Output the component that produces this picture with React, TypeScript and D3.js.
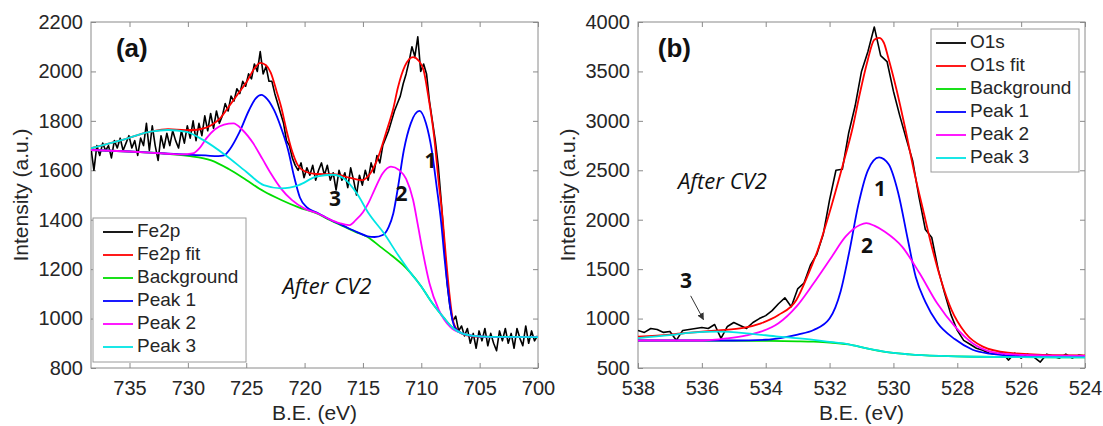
import React, { useRef, useEffect } from "react";
import * as d3 from "d3";

// ---------- panel (a) : Fe2p ----------
const fe2pStart = 738.3;
const fe2pStep = 0.25;
const fe2pRaw = [
  1690, 1600, 1700, 1660, 1710, 1680, 1700, 1650, 1720, 1690,
  1730, 1680, 1710, 1740, 1690, 1720, 1660, 1730, 1700, 1790,
  1680, 1780, 1700, 1640, 1740, 1690, 1750, 1700, 1760, 1720,
  1690, 1760, 1710, 1780, 1730, 1800, 1720, 1790, 1740, 1820,
  1760, 1830, 1770, 1840, 1790, 1820, 1870, 1840, 1900, 1880,
  1930, 1910, 1960, 1940, 1990, 1970, 2030, 2000, 2080, 1990,
  2020, 1960, 1960, 1910, 1870, 1830, 1790, 1720, 1700, 1650,
  1620, 1600, 1630, 1570, 1610, 1580, 1620, 1560, 1600, 1630,
  1580, 1620, 1560, 1590, 1520, 1600, 1560, 1590, 1530, 1610,
  1560, 1500, 1580, 1540, 1600, 1560, 1630, 1590, 1660, 1630,
  1700, 1730, 1760, 1800, 1840, 1870, 1900, 1950, 1990, 2040,
  2100, 2060, 2140, 2000, 2030, 1990, 1880, 1800, 1720, 1620,
  1480, 1320, 1150, 1050, 990, 1010, 950, 970, 930, 960,
  900, 940, 880, 950, 910, 960, 890, 940, 900, 870,
  950, 910, 960, 900, 940, 880, 960, 920, 890, 970,
  900, 950, 910, 930,
];
const fe2pFit: [number, number][] = [
  [738.3, 1689], [735.6, 1723], [733.2, 1756], [731.7, 1766], [730.2, 1762], [729.2, 1764],
  [728.0, 1782], [727.2, 1812], [726.5, 1857], [725.7, 1910], [725.0, 1955], [724.3, 2012],
  [723.8, 2035], [723.3, 2025], [722.9, 1995], [722.4, 1920], [722.0, 1855], [721.5, 1752],
  [721.1, 1682], [720.6, 1622], [720.0, 1596], [719.0, 1585], [717.5, 1584], [716.0, 1568],
  [715.1, 1560], [714.4, 1585], [713.8, 1640], [713.0, 1755], [712.4, 1850], [712.0, 1935],
  [711.4, 2022], [710.7, 2058], [710.2, 2042], [709.8, 2005], [709.4, 1900], [708.9, 1736],
  [708.5, 1547], [708.2, 1420], [707.9, 1255], [707.6, 1105], [707.3, 995], [706.9, 952],
  [706.2, 933], [705.0, 926], [700.0, 925],
];
const fe2pBackground: [number, number][] = [
  [738.3, 1682], [735.0, 1676], [732.0, 1668], [730.0, 1658], [728.0, 1640], [726.5, 1605],
  [725.0, 1561], [723.5, 1515], [722.0, 1480], [720.5, 1450], [719.0, 1426], [717.8, 1398],
  [716.7, 1374], [715.6, 1350], [714.6, 1330], [713.5, 1290], [712.4, 1250], [711.6, 1218],
  [710.9, 1184], [710.0, 1130], [709.2, 1072], [708.1, 1005], [707.3, 962], [706.5, 940],
  [705.5, 930], [704.0, 926], [700.0, 925],
];
const fe2pPeak1: [number, number][] = [
  [738.3, 1682], [735.0, 1676], [732.0, 1668], [730.0, 1663], [728.5, 1660], [727.4, 1657],
  [726.9, 1660], [726.4, 1685], [725.6, 1752], [724.75, 1844], [724.2, 1890], [723.7, 1905],
  [723.2, 1888], [722.6, 1842], [722.0, 1770], [721.4, 1680], [720.9, 1575], [720.4, 1490],
  [719.8, 1450], [719.0, 1430], [717.8, 1400], [716.7, 1376], [715.5, 1350], [714.6, 1333],
  [714.0, 1330], [713.3, 1338], [712.8, 1370], [712.4, 1425], [712.0, 1530], [711.5, 1680],
  [710.9, 1790], [710.15, 1840], [709.6, 1790], [709.1, 1680], [708.7, 1540], [708.3, 1390],
  [708.0, 1240], [707.7, 1110], [707.4, 1010], [707.1, 962], [706.5, 940], [705.5, 929],
  [704.0, 926], [700.0, 925],
];
const fe2pPeak2: [number, number][] = [
  [738.3, 1682], [735.0, 1676], [732.0, 1668], [730.5, 1664], [729.6, 1668], [729.0, 1690],
  [728.4, 1730], [727.7, 1765], [726.9, 1785], [726.1, 1790], [725.3, 1762], [724.4, 1709],
  [723.6, 1645], [722.9, 1588], [722.0, 1525], [721.1, 1480], [720.0, 1445], [719.0, 1428],
  [718.0, 1405], [717.0, 1386], [716.2, 1378], [715.6, 1399], [715.0, 1430], [714.5, 1470],
  [714.0, 1522], [713.3, 1588], [712.6, 1615], [711.9, 1601], [711.3, 1565], [710.7, 1480],
  [710.3, 1380], [709.9, 1277], [709.3, 1143], [708.5, 1035], [707.5, 965], [706.5, 940],
  [705.5, 930], [704.0, 926], [700.0, 925],
];
const fe2pPeak3: [number, number][] = [
  [738.3, 1689], [735.6, 1723], [733.2, 1756], [731.7, 1763], [730.2, 1756], [728.7, 1723],
  [726.8, 1662], [725.0, 1594], [723.5, 1540], [722.0, 1527], [720.5, 1540], [719.0, 1574],
  [717.6, 1582], [716.6, 1566], [715.5, 1505], [714.5, 1425], [713.2, 1345], [712.0, 1258],
  [710.9, 1184], [710.0, 1130], [709.2, 1072], [708.1, 1005], [707.3, 962], [706.5, 940],
  [705.5, 930], [704.0, 926], [700.0, 925],
];
const fe2pTicksX = [735, 730, 725, 720, 715, 710, 705, 700];
const fe2pTicksY = [800, 1000, 1200, 1400, 1600, 1800, 2000, 2200];
const fe2pLegend = ["Fe2p", "Fe2p fit", "Background", "Peak 1", "Peak 2", "Peak 3"];

// ---------- panel (b) : O1s ----------
const o1sStart = 538;
const o1sStep = 0.2;
const o1sRaw = [
  880, 860, 900, 890, 860, 870, 780, 880, 890, 900,
  910, 900, 940, 800, 920, 960, 930, 900, 960, 1000,
  1030, 1080, 1150, 1210, 1120, 1300, 1360, 1540, 1650, 1850,
  2200, 2500, 2510, 2880, 3150, 3500, 3700, 3950, 3660, 3600,
  3300, 3050, 2820, 2600, 2230, 1900, 1820, 1500, 1260, 1040,
  880, 780, 740, 700, 680, 650, 640, 660, 580, 650,
  600, 640, 610, 560, 640, 620, 600, 640, 600, 630, 620,
];
const o1sFit: [number, number][] = [
  [538, 817], [537, 838], [536.35, 858], [535.5, 880], [534.7, 905], [534.15, 952],
  [533.6, 1036], [533.04, 1188], [532.7, 1424], [532.37, 1694], [532.04, 2031], [531.6, 2536],
  [531.27, 2941], [531.05, 3279], [530.83, 3582], [530.6, 3820], [530.45, 3840], [530.3, 3790],
  [530.17, 3649], [529.9, 3312], [529.62, 2907], [529.34, 2469], [529.07, 2098], [528.85, 1795],
  [528.51, 1390], [528.18, 1087], [527.74, 851], [527.2, 716], [526.42, 655], [525, 630], [524, 627],
];
const o1sBackground: [number, number][] = [
  [538, 778], [536, 777], [534, 774], [533, 770], [532.5, 766], [532, 758], [531.4, 738],
  [530.8, 695], [530.2, 660], [529.5, 638], [528.5, 622], [527.5, 614], [526, 610], [524, 608],
];
const o1sPeak1: [number, number][] = [
  [538, 778], [535, 778], [534, 786], [533.5, 805], [533.0, 838], [532.5, 884], [532.0, 1000],
  [531.65, 1280], [531.38, 1680], [531.1, 2150], [530.8, 2500], [530.45, 2630], [530.15, 2560],
  [529.85, 2270], [529.55, 1800], [529.3, 1420], [529.0, 1170], [528.63, 960], [528.07, 790],
  [527.52, 685], [526.97, 645], [526, 620], [524, 612],
];
const o1sPeak2: [number, number][] = [
  [538, 778], [536, 778], [535.2, 800], [534.6, 830], [534.15, 867], [533.6, 952], [533.04, 1120],
  [532.5, 1357], [531.93, 1626], [531.5, 1828], [531.05, 1946], [530.85, 1965], [530.6, 1940],
  [530.28, 1880], [529.73, 1727], [529.18, 1458], [528.63, 1154], [528.07, 918], [527.52, 750],
  [526.97, 665], [526.4, 640], [525, 625], [524, 622],
];
const o1sPeak3: [number, number][] = [
  [538, 803], [537, 832], [536.35, 857], [535.5, 867], [534.6, 851], [533.6, 817], [532.5, 785],
  [532, 764], [531.4, 740], [530.8, 695], [530.2, 660], [529.5, 638], [528.5, 622], [527.5, 614],
  [526, 610], [524, 608],
];
const o1sTicksX = [538, 536, 534, 532, 530, 528, 526, 524];
const o1sTicksY = [500, 1000, 1500, 2000, 2500, 3000, 3500, 4000];
const o1sLegend = ["O1s", "O1s fit", "Background", "Peak 1", "Peak 2", "Peak 3"];

const seriesColors = ["#000000", "#ff0000", "#00dd00", "#0000ff", "#ff00ff", "#00e5e5"];

const sansFont = "'Liberation Sans', Arial, Helvetica, sans-serif";
const noteFont = "'Open Sans', 'DejaVu Sans', sans-serif";

const toPairs = (start: number, step: number, vals: number[]): [number, number][] =>
  vals.map((v, i) => [start - i * step, v]);

const panels = [
  {
    id: "a",
    left: 91, right: 538, top: 22, bottom: 368,
    xDomain: [738.3, 700], yDomain: [800, 2200],
    xTicks: fe2pTicksX, yTicks: fe2pTicksY,
    raw: toPairs(fe2pStart, fe2pStep, fe2pRaw),
    curves: [fe2pFit, fe2pBackground, fe2pPeak1, fe2pPeak2, fe2pPeak3],
    legend: fe2pLegend,
    legendBox: { x: 93, y: 218, w: 153, h: 144, first: 232, lineX: 103 },
    tag: { text: "(a)", at: [734.8, 2087] },
    note: { at: [721.9, 1124] },
    labels: [
      { t: "1", at: [709.2, 1634] },
      { t: "2", at: [711.7, 1500] },
      { t: "3", at: [717.4, 1480] },
    ],
    arrow: null as null | { from: number[]; to: number[] },
  },
  {
    id: "b",
    left: 638, right: 1085, top: 22, bottom: 368,
    xDomain: [538, 524], yDomain: [500, 4000],
    xTicks: o1sTicksX, yTicks: o1sTicksY,
    raw: toPairs(o1sStart, o1sStep, o1sRaw),
    curves: [o1sFit, o1sBackground, o1sPeak1, o1sPeak2, o1sPeak3],
    legend: o1sLegend,
    legendBox: { x: 931, y: 29, w: 148, h: 143, first: 43, lineX: 936 },
    tag: { text: "(b)", at: [536.86, 3717] },
    note: { at: [536.75, 2371] },
    labels: [
      { t: "1", at: [530.42, 2300] },
      { t: "2", at: [530.83, 1720] },
      { t: "3", at: [536.5, 1370] },
    ],
    arrow: { from: [536.35, 1230], to: [535.95, 990] },
  },
];

function drawPanel(svg: any, p: any) {
  const x = d3.scaleLinear().domain(p.xDomain).range([p.left, p.right]);
  const y = d3.scaleLinear().domain(p.yDomain).range([p.bottom, p.top]);

  const clipId = "clip-" + p.id;
  svg.append("clipPath").attr("id", clipId)
    .append("rect")
    .attr("x", p.left).attr("y", p.top)
    .attr("width", p.right - p.left).attr("height", p.bottom - p.top);

  // axes, ticks pointing inward on all four sides
  const styleAxis = (g: any) => {
    g.select(".domain").remove();
    g.selectAll(".tick line").attr("stroke", "#8a8a8a");
    g.selectAll(".tick text").attr("fill", "#262626");
    g.attr("font-size", 20).attr("font-family", sansFont);
  };
  svg.append("g").attr("transform", `translate(0,${p.bottom})`)
    .call(d3.axisBottom(x).tickValues(p.xTicks).tickSizeInner(-5).tickSizeOuter(0).tickPadding(13).tickFormat(d3.format("d")))
    .call(styleAxis);
  svg.append("g").attr("transform", `translate(0,${p.top})`)
    .call(d3.axisTop(x).tickValues(p.xTicks).tickSizeInner(-5).tickSizeOuter(0).tickFormat(() => ""))
    .call(styleAxis);
  svg.append("g").attr("transform", `translate(${p.left},0)`)
    .call(d3.axisLeft(y).tickValues(p.yTicks).tickSizeInner(-5).tickSizeOuter(0).tickPadding(8).tickFormat(d3.format("d")))
    .call(styleAxis);
  svg.append("g").attr("transform", `translate(${p.right},0)`)
    .call(d3.axisRight(y).tickValues(p.yTicks).tickSizeInner(-5).tickSizeOuter(0).tickFormat(() => ""))
    .call(styleAxis);

  svg.append("rect")
    .attr("x", p.left).attr("y", p.top)
    .attr("width", p.right - p.left).attr("height", p.bottom - p.top)
    .attr("fill", "none").attr("stroke", "#8a8a8a").attr("stroke-width", 1);

  // axis titles
  svg.append("text")
    .attr("x", (p.left + p.right) / 2).attr("y", 414)
    .attr("text-anchor", "middle").attr("dominant-baseline", "middle")
    .attr("font-size", 21).attr("font-family", sansFont).attr("fill", "#262626")
    .text("B.E. (eV)");
  svg.append("text")
    .attr("transform", `translate(${p.left - 69},${(p.top + p.bottom) / 2}) rotate(-90)`)
    .attr("text-anchor", "middle").attr("dominant-baseline", "middle")
    .attr("font-size", 21).attr("font-family", sansFont).attr("fill", "#262626")
    .text("Intensity (a.u.)");

  // data
  const plot = svg.append("g").attr("clip-path", `url(#${clipId})`);
  const rawLine = d3.line<[number, number]>().x((d) => x(d[0])).y((d) => y(d[1]));
  const smooth = d3.line<[number, number]>().x((d) => x(d[0])).y((d) => y(d[1])).curve(d3.curveMonotoneX);

  plot.append("path").datum(p.raw)
    .attr("d", rawLine).attr("fill", "none")
    .attr("stroke", seriesColors[0]).attr("stroke-width", 1.6).attr("stroke-linejoin", "round");

  p.curves.forEach((c: [number, number][], i: number) => {
    plot.append("path").datum(c)
      .attr("d", smooth).attr("fill", "none")
      .attr("stroke", seriesColors[i + 1]).attr("stroke-width", 1.8);
  });

  // legend
  const lb = p.legendBox;
  svg.append("rect")
    .attr("x", lb.x).attr("y", lb.y).attr("width", lb.w).attr("height", lb.h)
    .attr("fill", "#fff").attr("stroke", "#9a9a9a").attr("stroke-width", 1);
  const items = svg.selectAll(".leg-" + p.id).data(p.legend).join("g")
    .attr("class", "leg-" + p.id)
    .attr("transform", (d: string, i: number) => `translate(${lb.lineX},${lb.first + i * 23})`);
  items.append("line")
    .attr("x1", 0).attr("x2", 30).attr("y1", 0).attr("y2", 0)
    .attr("stroke", (d: string, i: number) => seriesColors[i]).attr("stroke-width", 1.8);
  items.append("text")
    .attr("x", 34).attr("y", 0).attr("dominant-baseline", "middle")
    .attr("font-size", 19).attr("font-family", sansFont).attr("fill", "#262626")
    .text((d: string) => d);

  // annotations
  svg.append("text")
    .attr("x", x(p.tag.at[0])).attr("y", y(p.tag.at[1]))
    .attr("text-anchor", "middle").attr("dominant-baseline", "middle")
    .attr("font-size", 26).attr("font-weight", "bold").attr("font-family", sansFont).attr("fill", "#111")
    .text(p.tag.text);
  svg.append("text")
    .attr("x", x(p.note.at[0])).attr("y", y(p.note.at[1]))
    .attr("dominant-baseline", "middle")
    .attr("font-size", 22).attr("font-style", "italic").attr("font-family", noteFont).attr("fill", "#111")
    .text("After CV2");
  p.labels.forEach((l: any) => {
    svg.append("text")
      .attr("x", x(l.at[0])).attr("y", y(l.at[1]))
      .attr("text-anchor", "middle").attr("dominant-baseline", "middle")
      .attr("font-size", 21).attr("font-weight", "bold").attr("font-family", noteFont).attr("fill", "#111")
      .text(l.t);
  });
  if (p.arrow) {
    svg.append("line")
      .attr("x1", x(p.arrow.from[0])).attr("y1", y(p.arrow.from[1]))
      .attr("x2", x(p.arrow.to[0])).attr("y2", y(p.arrow.to[1]))
      .attr("stroke", "#333").attr("stroke-width", 1)
      .attr("marker-end", "url(#arrowhead)");
  }
}

export default function App() {
  const svgRef = useRef<SVGSVGElement>(null);

  useEffect(() => {
    const svg = d3.select(svgRef.current);
    svg.selectAll("*").remove();
    svg.append("defs").append("marker")
      .attr("id", "arrowhead")
      .attr("viewBox", "0 0 10 10").attr("refX", 9).attr("refY", 5)
      .attr("markerWidth", 7).attr("markerHeight", 7).attr("orient", "auto")
      .append("path").attr("d", "M0,0 L10,5 L0,10 z").attr("fill", "#333");
    panels.forEach((p) => drawPanel(svg, p));
  }, []);

  return (
    <svg
      ref={svgRef}
      width={1103}
      height={426}
      style={{ position: "absolute", left: 0, top: 0, background: "#fff" }}
    />
  );
}
